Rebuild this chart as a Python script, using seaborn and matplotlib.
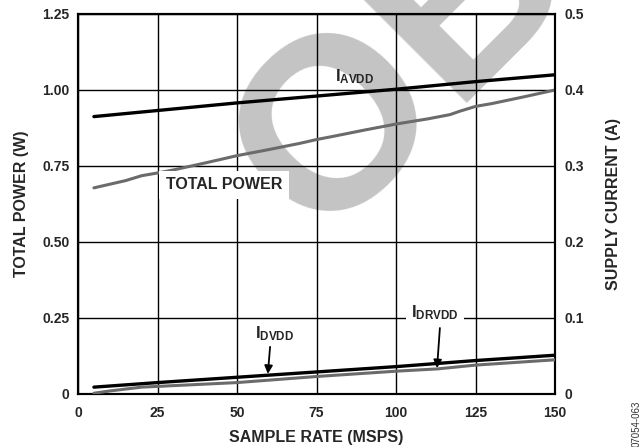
import numpy as np
import pandas as pd
import matplotlib
matplotlib.use("Agg")
import matplotlib.pyplot as plt
import seaborn as sns

# sample rate (MSPS)
rate_power = [5, 10, 15, 20, 25, 30, 40, 50, 60, 70, 75, 80, 90, 100, 110, 117, 120, 125, 130, 140, 150]
total_power = [0.678, 0.690, 0.702, 0.718, 0.727, 0.737, 0.760, 0.784, 0.804, 0.825, 0.837, 0.847, 0.868, 0.888, 0.905, 0.919, 0.930, 0.946, 0.955, 0.977, 1.000]

rate_avdd = [5, 25, 50, 75, 100, 125, 150]
i_avdd = [0.365, 0.373, 0.383, 0.392, 0.401, 0.411, 0.420]

rate_dvdd = [5, 25, 50, 75, 100, 125, 150]
i_dvdd = [0.009, 0.015, 0.022, 0.029, 0.036, 0.044, 0.051]

rate_drvdd = [5, 10, 20, 30, 50, 75, 100, 113, 125, 150]
i_drvdd = [0.001, 0.004, 0.009, 0.011, 0.015, 0.023, 0.030, 0.033, 0.038, 0.045]

x_ticks = [0, 25, 50, 75, 100, 125, 150]
power_ticks = [0, 0.25, 0.50, 0.75, 1.00, 1.25]
power_labels = ["0", "0.25", "0.50", "0.75", "1.00", "1.25"]
current_ticks = [0, 0.1, 0.2, 0.3, 0.4, 0.5]
current_labels = ["0", "0.1", "0.2", "0.3", "0.4", "0.5"]

sns.set_theme(style="white")
plt.rcParams["font.family"] = ["Liberation Sans", "DejaVu Sans"]
plt.rcParams["font.weight"] = "bold"
plt.rcParams["mathtext.fontset"] = "custom"
plt.rcParams["mathtext.rm"] = "Liberation Sans:bold"
plt.rcParams["mathtext.bf"] = "Liberation Sans:bold"
plt.rcParams["mathtext.it"] = "Liberation Sans:bold"

fig = plt.figure(figsize=(6.42, 4.47), dpi=100)
ax = fig.add_axes([0.1215, 0.1186, 0.743, 0.8501])
ax.set_facecolor("none")

# watermark
wm = fig.text(0.427, 0.559, "OBSOLETE", fontsize=176, fontweight="bold", color="#c4c4c4",
              rotation=45, rotation_mode="anchor", ha="left", va="center", zorder=-1)
wm.set_clip_box(fig.bbox)
wm.set_clip_on(True)

ax2 = ax.twinx()
ax2.set_facecolor("none")

df_p = pd.DataFrame({"rate": rate_power, "power": total_power})
sns.lineplot(data=df_p, x="rate", y="power", ax=ax, color="#6b6b6b", linewidth=2.2, zorder=4)

sns.lineplot(x=rate_avdd, y=i_avdd, ax=ax2, color="black", linewidth=2.4, zorder=5)
sns.lineplot(x=rate_drvdd, y=i_drvdd, ax=ax2, color="#6b6b6b", linewidth=2.2, zorder=4)
sns.lineplot(x=rate_dvdd, y=i_dvdd, ax=ax2, color="black", linewidth=2.4, zorder=5)

ax.set_xlim(0, 150)
ax.set_ylim(0, 1.25)
ax2.set_ylim(0, 0.5)
ax.set_xticks(x_ticks)
ax.set_xticklabels([str(t) for t in x_ticks])
ax.set_yticks(power_ticks)
ax.set_yticklabels(power_labels)
ax2.set_yticks(current_ticks)
ax2.set_yticklabels(current_labels)

ax.grid(True, color="black", linewidth=1.0)
ax.set_axisbelow(True)
for a in (ax, ax2):
    for s in a.spines.values():
        s.set_color("black")
        s.set_linewidth(1.5)
    a.tick_params(length=0, labelsize=10)
ax.tick_params(axis="x", pad=9)
ax.tick_params(axis="y", pad=6)
ax2.tick_params(axis="y", pad=6.5)

ax.set_xlabel("SAMPLE RATE (MSPS)", fontsize=11.5, fontweight="bold", labelpad=7)
ax.set_ylabel("TOTAL POWER (W)", fontsize=11.5, fontweight="bold", labelpad=10)
ax2.set_ylabel("SUPPLY CURRENT (A)", fontsize=11.5, fontweight="bold", labelpad=16)

ax.text(87.1, 1.043, r"$\mathrm{I}_{\mathrm{AVDD}}$", fontsize=12, ha="center", va="center", zorder=6)
ax.text(45.9, 0.6875, "TOTAL POWER", fontsize=11.5, fontweight="bold", ha="center", va="center",
        bbox=dict(facecolor="white", edgecolor="none", pad=5), zorder=6)
ax.text(112.3, 0.266, r"$\mathrm{I}_{\mathrm{DRVDD}}$", fontsize=12, ha="center", va="center",
        bbox=dict(facecolor="white", edgecolor="none", pad=4), zorder=6)
ax.text(61.9, 0.197, r"$\mathrm{I}_{\mathrm{DVDD}}$", fontsize=12, ha="center", va="center", zorder=6)

arrow = dict(arrowstyle="-|>", color="black", lw=1.3, mutation_scale=12, shrinkA=0, shrinkB=0)
ax.annotate("", xy=(59.7, 0.066), xytext=(60.4, 0.155), arrowprops=arrow, zorder=6)
ax.annotate("", xy=(112.9, 0.085), xytext=(113.8, 0.217), arrowprops=arrow, zorder=6)

fig.text(0.992, 0.0, "07054-063", fontsize=7, fontweight="normal", rotation=90,
         ha="center", va="bottom", color="#333333")

fig.savefig("out.png", dpi=100)
